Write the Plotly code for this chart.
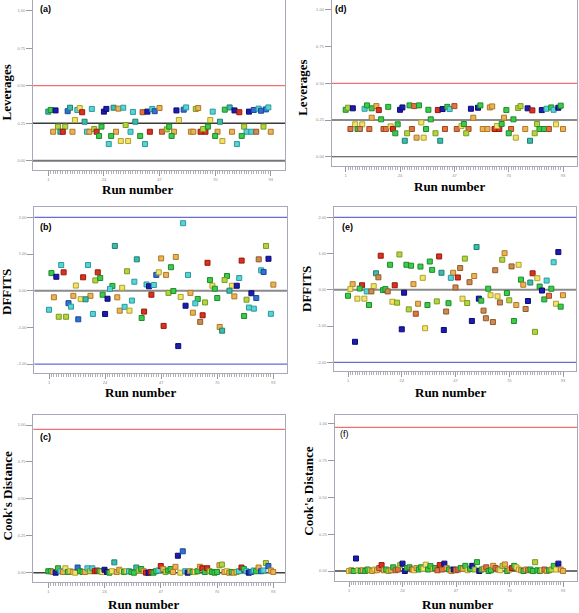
import plotly.graph_objects as go

W, H = 579, 613

# ---------------- palette (fill, edge) ----------------
PALETTE = {
    "db": ("#1c1cb0", "#0c0c70"),
    "b":  ("#3070d0", "#1a4a9a"),
    "c":  ("#58d4d4", "#2a9aa0"),
    "t":  ("#3cbcaa", "#208070"),
    "g":  ("#3ccc4c", "#1f8a2a"),
    "yg": ("#b4d444", "#7a9a20"),
    "y":  ("#f2e468", "#b0a030"),
    "o":  ("#eab456", "#b07828"),
    "br": ("#cc8c54", "#905a28"),
    "or": ("#e27444", "#a04820"),
    "r":  ("#da3222", "#981808"),
}

# ---------------- panel (a): Leverages ----------------
a_run = [1, 2, 4, 9, 10, 13, 14, 15, 19, 24, 25, 28, 30, 32, 36, 40, 42, 44, 45, 47, 54, 57, 58, 62, 63, 69, 74, 76, 78, 80, 84, 86, 88, 89, 91, 92,
         12, 16, 33, 37, 55, 68, 72,
         5, 8, 3, 6, 7, 11, 17, 18, 20, 21, 23, 29, 35, 43, 48, 50, 51, 53, 60, 61, 64, 66, 65, 67, 71, 77, 82, 83, 85, 87, 90, 93,
         22, 27, 39, 52, 70, 81, 31, 34, 73, 26, 41, 79]
a_val = [0.327, 0.338, 0.335, 0.33, 0.353, 0.338, 0.351, 0.323, 0.345, 0.327, 0.345, 0.353, 0.347, 0.353, 0.325, 0.323, 0.327, 0.345, 0.33, 0.351, 0.335, 0.34, 0.355, 0.345, 0.351, 0.327, 0.34, 0.355, 0.335, 0.323, 0.327, 0.338, 0.347, 0.333, 0.342, 0.355,
         0.271, 0.26, 0.238, 0.26, 0.271, 0.271, 0.26,
         0.227, 0.227, 0.193, 0.193, 0.193, 0.193, 0.193, 0.193, 0.211, 0.193, 0.227, 0.193, 0.193, 0.193, 0.193, 0.209, 0.227, 0.193, 0.193, 0.193, 0.193, 0.193, 0.211, 0.227, 0.193, 0.193, 0.227, 0.193, 0.193, 0.193, 0.227, 0.193,
         0.165, 0.165, 0.165, 0.165, 0.165, 0.165, 0.131, 0.131, 0.131, 0.111, 0.111, 0.111]
a_col = ["t", "g", "db", "b", "t", "c", "y", "r", "c", "db", "db", "t", "o", "c", "c", "or", "db", "c", "b", "o", "db", "b", "c", "yg", "o", "c", "g", "t", "db", "r", "db", "b", "c", "b", "b", "c",
         "y", "t", "yg", "t", "y", "y", "t",
         "yg", "yg", "o", "t", "r", "o", "c", "o", "yg", "r", "g", "o", "c", "r", "or", "yg", "g", "o", "o", "o", "r", "r", "yg", "g", "o", "o", "yg", "c", "c", "br", "yg", "o",
         "g", "g", "g", "g", "g", "g", "y", "y", "y", "c", "c", "c"]

# ---------------- panel (d): Leverages ----------------
d_run = [1, 2, 4, 9, 10, 12, 14, 15, 19, 24, 25, 28, 30, 32, 36, 40, 42, 44, 45, 47, 54, 57, 58, 62, 63, 69, 74, 75, 78, 80, 84, 86, 88, 89, 91, 92,
         12, 16, 33, 37, 55, 68, 72,
         5, 8, 3, 6, 7, 11, 17, 18, 20, 21, 23, 29, 35, 43, 48, 50, 51, 53, 59, 61, 64, 66, 65, 67, 71, 77, 82, 83, 85, 87, 90, 93,
         22, 27, 39, 52, 70, 81, 31, 34, 73, 26, 41, 79]
d_val = [0.32, 0.334, 0.33, 0.327, 0.35, 0.33, 0.345, 0.318, 0.34, 0.32, 0.336, 0.35, 0.345, 0.35, 0.32, 0.318, 0.325, 0.34, 0.325, 0.345, 0.327, 0.334, 0.35, 0.336, 0.343, 0.318, 0.332, 0.345, 0.33, 0.316, 0.318, 0.327, 0.336, 0.32, 0.334, 0.348,
         0.266, 0.255, 0.234, 0.255, 0.266, 0.266, 0.255,
         0.221, 0.221, 0.189, 0.189, 0.189, 0.189, 0.189, 0.189, 0.207, 0.189, 0.221, 0.189, 0.189, 0.189, 0.189, 0.209, 0.223, 0.189, 0.189, 0.189, 0.189, 0.189, 0.209, 0.223, 0.189, 0.189, 0.223, 0.189, 0.189, 0.189, 0.221, 0.189,
         0.16, 0.16, 0.16, 0.16, 0.16, 0.16, 0.13, 0.13, 0.13, 0.109, 0.109, 0.109]
d_col = ["g", "yg", "db", "c", "g", "g", "o", "r", "g", "db", "db", "g", "or", "g", "g", "r", "db", "g", "c", "or", "db", "db", "g", "o", "o", "g", "yg", "yg", "db", "r", "db", "c", "g", "c", "db", "g",
         "o", "g", "y", "g", "o", "o", "g",
         "y", "y", "or", "g", "br", "or", "or", "or", "y", "r", "g", "or", "g", "or", "or", "y", "g", "or", "o", "o", "r", "r", "y", "g", "or", "o", "yg", "g", "g", "or", "y", "o",
         "g", "yg", "yg", "yg", "g", "yg", "o", "y", "y", "t", "t", "t"]

# ---------------- panel (b): DFFITS ----------------
b_run = [28, 6, 17, 37, 47, 2, 7, 4, 15, 21, 20, 22, 33, 12, 27, 26, 31, 36, 41, 42, 44, 45, 46, 49,
         3, 11, 18, 23, 14, 16, 25, 29, 9, 10, 1, 5, 8, 13, 19, 24, 30, 32, 34, 35, 40, 39, 43, 48,
         56, 90, 53, 66, 80, 87, 91, 51, 58, 67, 74, 73, 79, 88, 89, 68, 69, 76, 78, 75, 93,
         50, 52, 55, 59, 62, 65, 61, 57, 70, 77, 82, 84, 86, 60, 64, 63, 81, 83, 85, 92, 71, 72, 54]
b_val = [1.22, 0.70, 0.70, 0.855, 0.88, 0.48, 0.50, 0.38, 0.365, 0.50, 0.28, 0.345, 0.53, 0.14, 0.13, 0.05, 0.08, 0.245, 0.17, 0.12, 0.155, 0.43, 0.50, 0.43,
         -0.18, -0.14, -0.14, -0.11, -0.23, -0.235, -0.22, -0.18, -0.34, -0.435, -0.52, -0.71, -0.71, -0.78, -0.635, -0.635, -0.545, -0.44, -0.545, -0.27, -0.57, -0.745, -0.11, -0.96,
         1.84, 1.22, 0.92, 0.76, 0.82, 0.855, 0.87, 0.64, 0.43, 0.29, 0.40, 0.29, 0.345, 0.555, 0.51, 0.135, 0.055, 0.135, 0.135, 0.00, 0.165,
         -0.06, -0.01, -0.17, -0.06, -0.225, -0.32, -0.345, -0.41, -0.20, -0.155, -0.245, -0.07, -0.20, -0.60, -0.67, -0.85, -0.69, -0.46, -0.49, -0.63, -0.99, -1.09, -1.51]
b_col = ["t", "c", "c", "t", "o", "g", "r", "db", "r", "r", "yg", "g", "yg", "y", "g", "c", "y", "c", "c", "db", "c", "b", "y", "o",
         "o", "o", "o", "g", "y", "t", "db", "o", "b", "c", "c", "yg", "yg", "b", "c", "db", "o", "c", "y", "c", "r", "g", "r", "r",
         "c", "yg", "o", "r", "r", "br", "db", "g", "c", "g", "g", "yg", "c", "c", "b", "y", "g", "y", "db", "t", "o",
         "yg", "g", "y", "o", "g", "yg", "c", "db", "g", "o", "yg", "db", "b", "o", "r", "br", "g", "c", "c", "c", "o", "t", "db"]

# ---------------- panel (e): DFFITS ----------------
e_run = [15, 23, 40, 19, 26, 28, 32, 36, 37, 41, 46, 45, 13, 14, 33, 3, 7, 12, 21, 29, 2, 6, 9, 11, 16, 17, 18, 25, 1, 5,
         8, 10, 20, 22, 27, 31, 30, 35, 39, 44, 43, 24, 34, 42, 4,
         56, 91, 51, 68, 67, 89, 49, 71, 74, 64, 48, 55, 80, 47, 53, 61, 75, 79, 82, 86, 83, 88, 84, 76,
         50, 52, 57, 58, 62, 65, 69, 70, 66, 73, 78, 77, 85, 87, 93, 90, 92, 59, 60, 63, 54, 72, 81]
e_val = [0.94, 0.975, 0.92, 0.69, 0.69, 0.665, 0.64, 0.78, 0.55, 0.47, 0.47, 0.33, 0.455, 0.345, 0.33, 0.155, 0.125, 0.10, 0.125, 0.155,
         0.02, 0.035, -0.045, -0.045, -0.01, 0.02, -0.045, -0.08, -0.165, -0.245, -0.245, -0.42, -0.33, -0.355, -0.54, -0.385, -0.66, -0.42, -0.32, -0.37,
         -0.60, -1.09, -1.06, -1.11, -1.435,
         1.18, 1.04, 0.86, 1.01, 0.83, 0.76, 0.60, 0.645, 0.69, 0.54, 0.34, 0.38, 0.455, 0.065, 0.21, 0.03, 0.28, 0.20, 0.32, 0.255, 0.09, 0.03, -0.02, 0.14,
         -0.245, -0.365, -0.245, -0.30, -0.15, -0.18, -0.09, -0.29, -0.35, -0.42, -0.31, -0.53, -0.265, -0.165, -0.15, -0.385, -0.465, -0.575, -0.785, -0.89, -0.86, -0.86, -1.16]
e_col = ["r", "yg", "r", "g", "g", "g", "g", "g", "g", "t", "o", "c", "t", "br", "y", "o", "r", "y", "r", "o",
         "y", "g", "c", "br", "g", "g", "br", "db", "g", "y", "y", "g", "y", "yg", "yg", "o", "or", "g", "yg", "g",
         "br", "db", "y", "db", "db",
         "t", "db", "yg", "o", "yg", "c", "br", "br", "y", "br", "r", "o", "r", "br", "br", "g", "g", "t", "y", "c", "g", "g", "db", "o",
         "y", "yg", "db", "g", "y", "y", "g", "yg", "br", "o", "db", "br", "g", "or", "o", "y", "g", "br", "br", "br", "db", "g", "yg"]

# ---------------- panels (c) and (f): Cook's Distance (runs 1..93) ----------------
cook_runs = list(range(1, 94))
c_val = [0.01, 0.01, 0.005, 0.0, 0.03, 0.01, 0.005, 0.03, 0.005, 0.01,
         0.005, 0.0, 0.035, 0.01, 0.005, 0.005, 0.03, 0.01, 0.03, 0.01,
         0.015, 0.01, 0.005, 0.02, 0.005, 0.0, 0.01, 0.07, 0.005, 0.02,
         0.01, 0.005, 0.01, 0.01, 0.005, 0.0, 0.035, 0.015, 0.025, 0.01,
         0.0, 0.0, 0.005, 0.0, 0.01, 0.015, 0.045, 0.025, 0.005, 0.015,
         0.025, 0.005, 0.04, 0.115, 0.0, 0.145, 0.01, 0.0, 0.01, 0.005,
         0.005, 0.01, 0.04, 0.03, 0.005, 0.03, 0.01, 0.005, 0.0, 0.005,
         0.05, 0.055, 0.005, 0.01, 0.0, 0.005, 0.0, 0.005, 0.01, 0.035,
         0.025, 0.01, 0.0, 0.005, 0.015, 0.01, 0.035, 0.01, 0.015, 0.065,
         0.045, 0.015, 0.005]
c_col = ["g", "g", "o", "db", "g", "c", "o", "y", "g", "y",
         "o", "y", "b", "g", "g", "o", "c", "yg", "c", "r",
         "r", "g", "y", "db", "db", "g", "y", "t", "o", "o",
         "y", "g", "y", "c", "g", "g", "t", "yg", "g", "o",
         "r", "db", "r", "g", "g", "c", "r", "o", "yg", "g",
         "g", "o", "o", "db", "y", "b", "c", "db", "o", "g",
         "y", "g", "o", "r", "g", "r", "yg", "g", "g", "g",
         "o", "yg", "o", "y", "o", "g", "o", "yg", "c", "r",
         "g", "c", "db", "b", "c", "g", "o", "b", "c", "yg",
         "b", "o", "o"]
f_val = [0.0, 0.005, 0.0, 0.085, 0.005, 0.0, 0.005, 0.0, 0.01, 0.005,
         0.0, 0.01, 0.005, 0.02, 0.04, 0.005, 0.01, 0.0, 0.005, 0.025,
         0.005, 0.01, 0.04, 0.05, 0.0, 0.02, 0.025, 0.01, 0.005, 0.02,
         0.01, 0.025, 0.015, 0.043, 0.01, 0.033, 0.015, 0.02, 0.005, 0.04,
         0.01, 0.05, 0.02, 0.01, 0.0, 0.01, 0.005, 0.01, 0.02, 0.015,
         0.035, 0.005, 0.015, 0.035, 0.01, 0.06, 0.0, 0.01, 0.015, 0.025,
         0.0, 0.005, 0.035, 0.02, 0.01, 0.005, 0.035, 0.045, 0.0, 0.01,
         0.02, 0.035, 0.025, 0.01, 0.005, 0.0, 0.01, 0.005, 0.01, 0.0,
         0.06, 0.005, 0.0, 0.005, 0.01, 0.0, 0.005, 0.01, 0.035, 0.01,
         0.05, 0.01, 0.0]
f_col = ["y", "o", "g", "db", "y", "g", "o", "g", "g", "yg",
         "o", "y", "o", "or", "r", "o", "g", "yg", "o", "g",
         "br", "or", "yg", "db", "db", "g", "g", "or", "y", "o",
         "g", "g", "y", "y", "g", "g", "yg", "g", "or", "r",
         "or", "db", "o", "g", "o", "db", "or", "or", "g", "o",
         "g", "y", "g", "db", "yg", "g", "db", "g", "o", "or",
         "g", "g", "o", "or", "br", "y", "yg", "o", "g", "o",
         "r", "g", "y", "y", "o", "g", "o", "br", "g", "g",
         "yg", "g", "g", "y", "or", "o", "g", "yg", "g", "y",
         "db", "o", "o"]

# tick labels / reference lines
run_ticks = [1, 24, 47, 70, 93]
lev_ticks = [0.0, 0.25, 0.5, 0.75, 1.0]
dff_ticks = [-2.0, -1.0, 0.0, 1.0, 2.0]
cook_ticks = [0.0, 0.25, 0.5, 0.75, 1.0]
lev_lines = {"warn": 0.50, "mid": 0.25, "zero": 0.0}
dff_lines = {"upper": 2.0, "lower": -2.0, "zero": 0.0}
cook_lines = {"warn_c": 0.97, "warn_f": 0.977, "zero": 0.0}

# ---------------- layout geometry (pixels) ----------------
def fx(x):
    return x / W

def fy(y):
    return 1 - y / H

panels = {
    "a": dict(box=(33, 285, 0, 170), xr=(-5.33, 98.9), yr=(-0.062, 1.071)),
    "d": dict(box=(331.7, 577, 0, 166), xr=(-4.93, 98.9), yr=(-0.063, 1.068)),
    "b": dict(box=(34.3, 287, 206.7, 373), xr=(-5.03, 98.6), yr=(-2.244, 2.29)),
    "e": dict(box=(334, 576, 207, 370.7), xr=(-4.99, 98.56), yr=(-2.232, 2.284)),
    "c": dict(box=(33.3, 285, 415, 582.3), xr=(-5.13, 97.8), yr=(-0.065, 1.068)),
    "f": dict(box=(334.7, 577, 415, 580.7), xr=(-5.15, 99.0), yr=(-0.066, 1.061)),
}
order = ["a", "d", "b", "e", "c", "f"]
data = {
    "a": (a_run, a_val, a_col), "d": (d_run, d_val, d_col),
    "b": (b_run, b_val, b_col), "e": (e_run, e_val, e_col),
    "c": (cook_runs, c_val, c_col), "f": (cook_runs, f_val, f_col),
}
yticks = {"a": lev_ticks, "d": lev_ticks, "b": dff_ticks, "e": dff_ticks, "c": cook_ticks, "f": cook_ticks}

fig = go.Figure()
layout = dict(
    template="none",
    width=W, height=H, margin=dict(l=0, r=0, t=0, b=0, pad=0, autoexpand=False),
    paper_bgcolor="white", plot_bgcolor="white", showlegend=False,
)
shapes = []
tickfont = dict(family="Arial", size=4, color="#8a8a8a")

for i, k in enumerate(order, start=1):
    p = panels[k]
    l, r, t, b = p["box"]
    xn = "xaxis" if i == 1 else f"xaxis{i}"
    yn = "yaxis" if i == 1 else f"yaxis{i}"
    xref = "x" if i == 1 else f"x{i}"
    yref = "y" if i == 1 else f"y{i}"
    layout[xn] = dict(
        domain=[fx(l), fx(r)], range=list(p["xr"]), anchor=yref, automargin=False,
        tickmode="array", tickvals=run_ticks, ticktext=[str(v) for v in run_ticks],
        ticks="outside", ticklen=5, tickcolor="#9a9a9a", tickwidth=1, tickfont=tickfont,
        minor=dict(tickmode="array", tickvals=list(range(1, 94)), ticks="outside", ticklen=3,
                   tickcolor="#b0b0b0", tickwidth=1, showgrid=False),
        showline=True, mirror=True, linecolor="#a8a8b8", linewidth=1,
        showgrid=False, zeroline=False, fixedrange=True,
    )
    yt = yticks[k]
    layout[yn] = dict(
        domain=[fy(b), fy(t)], range=list(p["yr"]), anchor=xref, automargin=False,
        tickmode="array", tickvals=yt, ticktext=["%.2f" % v for v in yt],
        ticks="outside", ticklen=6, tickcolor="#9a9a9a", tickwidth=1, tickfont=tickfont,
        showline=True, mirror=True, linecolor="#a8a8b8", linewidth=1,
        showgrid=False, zeroline=False, fixedrange=True,
    )
    runs, vals, cols = data[k]
    assert len(runs) == len(vals) == len(cols), k
    fig.add_trace(go.Scatter(
        x=runs, y=vals, mode="markers", xaxis=xref, yaxis=yref,
        marker=dict(symbol="square", size=5,
                    color=[PALETTE[c][0] for c in cols],
                    line=dict(color=[PALETTE[c][1] for c in cols], width=1)),
        hoverinfo="x+y",
    ))

    def hline(y, color, width):
        shapes.append(dict(type="line", xref=f"{xref} domain", yref=yref,
                           x0=0, x1=1, y0=y, y1=y, layer="below",
                           line=dict(color=color, width=width)))

    if k == "a":
        hline(lev_lines["warn"], "#f07070", 1.2)
        hline(lev_lines["mid"], "#3a3a3a", 1.4)
        hline(lev_lines["zero"], "#777777", 2)
    elif k == "d":
        hline(lev_lines["warn"], "#f07070", 1.2)
        hline(lev_lines["mid"], "#8a8a8a", 2)
        hline(lev_lines["zero"], "#444444", 1.2)
    elif k in ("b", "e"):
        hline(dff_lines["upper"], "#6a6ad8", 1.3)
        hline(dff_lines["lower"], "#6a6ad8", 1.3)
        hline(dff_lines["zero"], "#8a8a8a", 2)
    elif k == "c":
        hline(cook_lines["warn_c"], "#f07070", 1.3)
        hline(cook_lines["zero"], "#404040", 1.4)
    else:
        hline(cook_lines["warn_f"], "#f07070", 1.3)
        hline(cook_lines["zero"], "#404040", 1.4)

layout["shapes"] = shapes

serif = "Liberation Serif, Times New Roman, serif"
ann = []
ytitles = [("Leverages", 6.5, 93), ("Leverages", 302.3, 87.5), ("DFFITS", 6.5, 292.5),
           ("DFFITS", 306, 289), ("Cook's Distance", 6.5, 496), ("Cook's Distance", 309, 491.7)]
for txt, x, y in ytitles:
    ann.append(dict(text=f"<b>{txt}</b>", x=fx(x), y=fy(y), xref="paper", yref="paper",
                    xanchor="center", yanchor="middle", textangle=-90, showarrow=False,
                    font=dict(family=serif, size=13, color="black")))
xtitles = [(137.7, 190), (449, 186), (140, 392), (450, 392.5), (143.3, 604), (457, 604)]
for x, y in xtitles:
    ann.append(dict(text="<b>Run number</b>", x=fx(x), y=fy(y), xref="paper", yref="paper",
                    xanchor="center", yanchor="middle", showarrow=False,
                    font=dict(family=serif, size=13, color="black")))
labels = [("(a)", 45, 9.3, True), ("(d)", 341, 9.3, True), ("(b)", 45.5, 227.5, True),
          ("(e)", 347.3, 227.5, True), ("(c)", 45, 436.7, True), ("(f)", 344, 434, False)]
for txt, x, y, bold in labels:
    ann.append(dict(text=f"<b>{txt}</b>" if bold else txt, x=fx(x), y=fy(y), xref="paper", yref="paper",
                    xanchor="center", yanchor="middle", showarrow=False,
                    font=dict(family="Arial, Liberation Sans, sans-serif", size=9, color="black")))
layout["annotations"] = ann

fig.update_layout(**layout)
fig.write_html("out.html", config={"displayModeBar": False, "staticPlot": True},
               post_script="document.body.style.margin='0';document.body.style.overflow='hidden';")
